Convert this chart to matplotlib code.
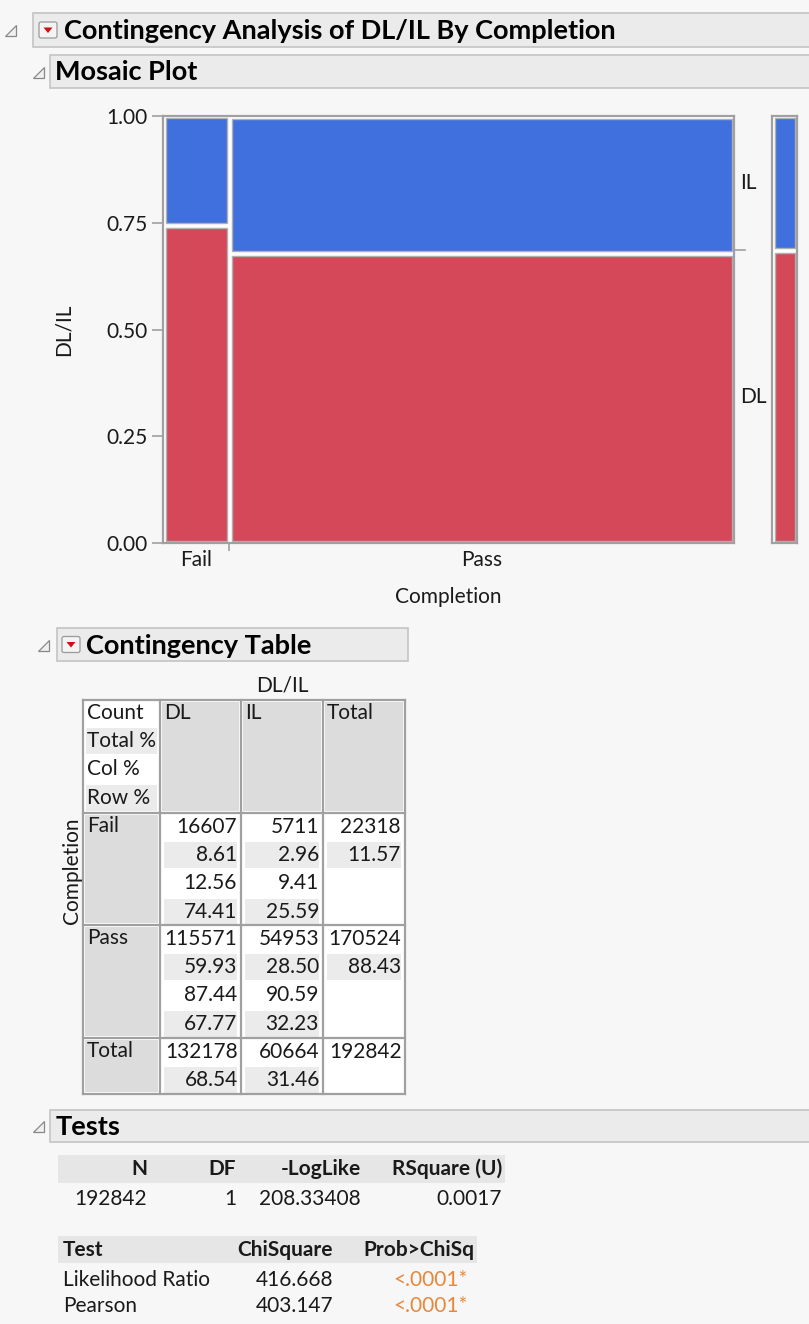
import numpy as np
import matplotlib.pyplot as plt
from matplotlib.patches import Rectangle, Polygon, FancyBboxPatch

plt.rcParams['font.family'] = ['Lato', 'DejaVu Sans']

W, H = 809, 1324

completion = ["Fail", "Pass"]
dlil = ["DL", "IL"]
dl_counts = [16607, 115571]
il_counts = [5711, 54953]
row_totals = [22318, 170524]
col_totals = [132178, 60664]
grand_total = 192842
total_pct = [[8.61, 2.96, 11.57], [59.93, 28.50, 88.43]]
col_pct = [[12.56, 9.41], [87.44, 90.59]]
row_pct = [[74.41, 25.59], [67.77, 32.23]]
col_total_pct = [68.54, 31.46]

n_obs = 192842
df_val = 1
neg_loglike = 208.33408
rsquare_u = 0.0017
test_names = ["Likelihood Ratio", "Pearson"]
chisquare = [416.668, 403.147]
prob_chisq = ["<.0001*", "<.0001*"]

BLUE = "#406fde"
RED = "#d5485a"
BG = "#f7f7f7"
TXT = "#1a1a1a"
EDGE = "#a0a0a0"
FS = 15

fig = plt.figure(figsize=(W / 100, H / 100), dpi=100, facecolor=BG)
bg = fig.add_axes([0, 0, 1, 1], zorder=0)
bg.set_xlim(0, W)
bg.set_ylim(H, 0)
bg.axis("off")


def T(x, y, s, **kw):
    kw.setdefault("fontsize", FS)
    kw.setdefault("color", TXT)
    kw.setdefault("va", "center")
    bg.text(x, y, s, **kw)


def header(x0, x1, y0, y1, tri_x, text, text_x, button=None):
    bg.add_patch(Rectangle((x0, y0), x1 - x0, y1 - y0, facecolor="#ebebeb",
                           edgecolor="#c4c4c4", lw=1.2))
    yc = (y0 + y1) / 2
    bg.add_patch(Polygon([[tri_x, yc + 6], [tri_x + 11, yc + 6], [tri_x + 11, yc - 5]],
                         closed=True, facecolor="#f0f0f0", edgecolor="#888888", lw=0.9))
    if button is not None:
        bx = button
        bg.add_patch(FancyBboxPatch((bx, yc - 8), 18, 16, boxstyle="round,pad=0,rounding_size=2",
                                    facecolor="#f4f4f4", edgecolor="#9a9a9a", lw=0.9))
        bg.add_patch(Polygon([[bx + 4.5, yc - 2.5], [bx + 13.5, yc - 2.5], [bx + 9, yc + 3]],
                             closed=True, facecolor="#d01010", edgecolor="none"))
    T(text_x, yc + 1, text, fontsize=19.5, fontweight="bold", color="black")


header(33, 812, 13, 47, 5, "Contingency Analysis of DL/IL By Completion", 64, button=39)
header(50, 812, 55, 88, 33, "Mosaic Plot", 55)
header(57, 408, 628, 661, 38, "Contingency Table", 86, button=62)
header(50, 812, 1110, 1142, 33, "Tests", 56)

# ---- mosaic plot ----
L, R, TOP, BOT = 163, 734, 116, 543
ax = fig.add_axes([L / W, 1 - BOT / H, (R - L) / W, (BOT - TOP) / H], zorder=2)
ax.set_facecolor("white")
ax.set_xlim(0, 1)
ax.set_ylim(0, 1)

widths = np.array(row_totals) / grand_total
lefts = np.concatenate([[0], np.cumsum(widths)[:-1]])
dl_frac = np.array(dl_counts) / np.array(row_totals)
gx, gy = 2.5 / (R - L), 2.5 / (BOT - TOP)
for lft, w, p in zip(lefts, widths, dl_frac):
    ax.bar(lft + gx, p - 2 * gy, width=w - 2 * gx, bottom=gy, align="edge",
           color=RED, edgecolor="#b0b0b0", lw=1)
    ax.bar(lft + gx, 1 - p - 2 * gy, width=w - 2 * gx, bottom=p + gy, align="edge",
           color=BLUE, edgecolor="#b0b0b0", lw=1)

ax.set_yticks([0, 0.25, 0.5, 0.75, 1.0])
ax.set_yticklabels(["0.00", "0.25", "0.50", "0.75", "1.00"])
ax.set_xticks(lefts[1:])
ax.set_xticklabels([])
ax.tick_params(axis="y", length=8, width=1.2, color=EDGE, labelsize=FS, labelcolor=TXT, pad=3)
ax.tick_params(axis="x", length=6, width=1.2, color=EDGE)
for sp in ax.spines.values():
    sp.set_color(EDGE)
    sp.set_linewidth(1.6)
for lft, w, name in zip(lefts, widths, completion):
    ax.text(lft + w / 2, -0.04, name, ha="center", va="center", fontsize=FS, color=TXT)
ax.set_xlabel("Completion", fontsize=FS, color=TXT, labelpad=22)
ax.set_ylabel("DL/IL", fontsize=FS, color=TXT, labelpad=24)

# marginal labels on the right
overall_dl = col_totals[0] / grand_total
ax.text(1.01, (overall_dl + 1) / 2, dlil[1], transform=ax.transAxes, fontsize=FS,
        va="center", ha="left", color=TXT, clip_on=False)
ax.text(1.01, overall_dl / 2, dlil[0], transform=ax.transAxes, fontsize=FS,
        va="center", ha="left", color=TXT, clip_on=False)
ax.plot([1.0, 1.02], [overall_dl, overall_dl], transform=ax.transAxes, color=EDGE,
        lw=1.2, clip_on=False)

# side bar
sx0, sx1 = 772, 797
side = fig.add_axes([sx0 / W, 1 - BOT / H, (sx1 - sx0) / W, (BOT - TOP) / H], zorder=1)
side.set_facecolor("white")
side.set_xlim(0, 1)
side.set_ylim(0, 1)
sgx = 2.5 / (sx1 - sx0)
side.bar(sgx, overall_dl - 2 * gy, width=1 - 2 * sgx, bottom=gy, align="edge",
         color=RED, edgecolor="#b0b0b0", lw=1)
side.bar(sgx, 1 - overall_dl - 2 * gy, width=1 - 2 * sgx, bottom=overall_dl + gy,
         align="edge", color=BLUE, edgecolor="#b0b0b0", lw=1)
side.set_xticks([])
side.set_yticks([])
for sp in side.spines.values():
    sp.set_color(EDGE)
    sp.set_linewidth(1.6)

# ---- contingency table ----
cx = [83, 160, 241, 323, 405]
hdr_top, fail_top, pass_top, tot_top, tab_bot = 700, 813, 925, 1038, 1094
LH = 28.2
GRAY = "#dcdcdc"
LIGHT = "#ebebeb"

bg.add_patch(Rectangle((cx[0], hdr_top), cx[-1] - cx[0], tab_bot - hdr_top,
                       facecolor="white", edgecolor="none"))
# shaded header cells
for i in range(1, 4):
    bg.add_patch(Rectangle((cx[i] + 2, hdr_top + 2), cx[i + 1] - cx[i] - 4,
                           fail_top - hdr_top - 4, facecolor=GRAY, edgecolor="none"))
# shaded row label cells
for top, bot in [(fail_top, pass_top), (pass_top, tot_top), (tot_top, tab_bot)]:
    bg.add_patch(Rectangle((cx[0] + 2, top + 2), cx[1] - cx[0] - 4, bot - top - 4,
                           facecolor=GRAY, edgecolor="none"))
# light stripes
for k in (1, 3):
    yc = hdr_top + 13 + k * LH
    bg.add_patch(Rectangle((cx[0] + 3, yc - LH / 2 + 1), cx[1] - cx[0] - 6, LH - 2,
                           facecolor=LIGHT, edgecolor="none"))
for top, ncols, lines in [(fail_top, 3, (1, 3)), (pass_top, 3, (1, 3)), (tot_top, 2, (1,))]:
    for k in lines:
        yc = top + 14 + k * LH
        for i in range(1, 1 + ncols):
            if i == 3 and k == 3:
                continue
            bg.add_patch(Rectangle((cx[i] + 4, yc - LH / 2 + 1), cx[i + 1] - cx[i] - 8, LH - 2,
                                   facecolor=LIGHT, edgecolor="none"))
# grid lines
for x in cx:
    bg.plot([x, x], [hdr_top, tab_bot], color=EDGE, lw=1.6)
for y in [hdr_top, fail_top, pass_top, tot_top, tab_bot]:
    bg.plot([cx[0], cx[-1]], [y, y], color=EDGE, lw=1.6)

T((cx[1] + cx[4]) / 2, 685, "DL/IL", ha="center")
T(72, (fail_top + tot_top) / 2 - 55, "Completion", ha="center", rotation=90)
for k, s in enumerate(["Count", "Total %", "Col %", "Row %"]):
    T(cx[0] + 4, hdr_top + 13 + k * LH, s)
for i, s in enumerate(["DL", "IL", "Total"]):
    T(cx[i + 1] + 4, hdr_top + 13, s)

for r, top in enumerate([fail_top, pass_top]):
    T(cx[0] + 4, top + 13, completion[r])
    vals = [[dl_counts[r], il_counts[r], row_totals[r]],
            [f"{v:.2f}" for v in total_pct[r]],
            [f"{v:.2f}" for v in col_pct[r]],
            [f"{v:.2f}" for v in row_pct[r]]]
    for k, line in enumerate(vals):
        for i, v in enumerate(line):
            T(cx[i + 2] - 4, top + 14 + k * LH, str(v), ha="right")
T(cx[0] + 4, tot_top + 13, "Total")
for i, v in enumerate(col_totals + [grand_total]):
    T(cx[i + 2] - 3, tot_top + 14, str(v), ha="right")
for i, v in enumerate(col_total_pct):
    T(cx[i + 2] - 3, tot_top + 14 + LH, f"{v:.2f}", ha="right")

# ---- tests ----
bg.add_patch(Rectangle((58, 1155), 447, 28, facecolor="#e6e6e6", edgecolor="none"))
hdr1 = ["N", "DF", "-LogLike", "RSquare (U)"]
right1 = [147, 236, 361, 502]
vals1 = [str(n_obs), str(df_val), f"{neg_loglike:.5f}", f"{rsquare_u:.4f}"]
for s, v, xr in zip(hdr1, vals1, right1):
    T(xr, 1169, s, ha="right", fontweight="bold")
    T(xr, 1199, v, ha="right")

bg.add_patch(Rectangle((58, 1236), 419, 27, facecolor="#e6e6e6", edgecolor="none"))
T(63, 1250, "Test", fontweight="bold")
T(333, 1250, "ChiSquare", ha="right", fontweight="bold")
T(474, 1250, "Prob>ChiSq", ha="right", fontweight="bold")
for j, (name, c, p) in enumerate(zip(test_names, chisquare, prob_chisq)):
    y = 1280 + j * 26
    T(63, y, name)
    T(333, y, f"{c:.3f}", ha="right")
    T(468, y, p, ha="right", color="#e8873a")

fig.savefig("out.png", dpi=100, facecolor=BG)
